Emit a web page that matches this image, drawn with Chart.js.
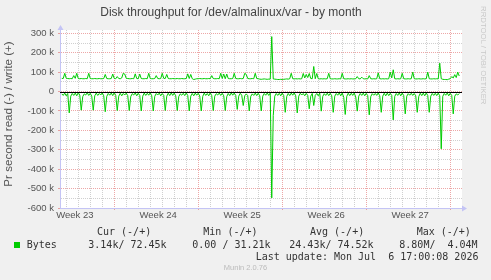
<!DOCTYPE html>
<html>
<head>
<meta charset="utf-8">
<title>Disk throughput for /dev/almalinux/var - by month</title>
<script src="https://cdn.jsdelivr.net/npm/chart.js@4.4.1/dist/chart.umd.min.js"></script>
<style>
  html, body { margin: 0; padding: 0; background: #f0f0f0; }
  #wrap { position: relative; width: 491px; height: 280px; overflow: hidden; }
  #wrap canvas { position: absolute; left: 0; top: 0; }
  .mono { position: absolute; white-space: pre; font: 10px/12px 'DejaVu Sans Mono', monospace; color: #333; }
  .swatch { position: absolute; left: 14px; top: 242px; width: 6px; height: 6px; background: #00cc00; }
  .footer { position: absolute; left: 0; width: 491px; top: 263px; text-align: center; font: 7.5px/10px 'Liberation Sans', Arial, sans-serif; color: #bbb; }
  .rrd { position: absolute; left: 479px; top: 6px; writing-mode: vertical-rl; font: 7.8px/8px 'Liberation Sans', Arial, sans-serif; color: #c8c8c8; white-space: nowrap; }
</style>
</head>
<body>
<div id="wrap">
  <canvas id="chart" width="491" height="280"></canvas>
  <div class="rrd">RRDTOOL / TOBI OETIKER</div>
  <div id="legend"></div>
  <div class="footer">Munin 2.0.76</div>
</div>
<script>
// samples every 3 hours, x in days from the start of week 24
const sampleStart = -4.4375;
const sampleStep = 0.125;

// write (+), in k per second, one row per day
const writeK = [
  68, 67, 94, 68, 67, 66, 67, 66,
  82, 68, 94, 67, 66, 67, 66, 66,
  67, 66, 94, 67, 66, 66, 67, 66,
  66, 67, 66, 66, 67, 88, 67, 66,
  66, 67, 90, 67, 66, 77, 67, 66,
  70, 94, 90, 68, 67, 66, 66, 67,
  66, 91, 67, 66, 90, 67, 66, 66,
  67, 66, 94, 67, 66, 66, 67, 82,
  67, 66, 67, 94, 68, 67, 88, 67,
  66, 66, 67, 66, 66, 67, 66, 66,
  67, 66, 66, 67, 91, 67, 88, 66,
  62, 64, 66, 66, 67, 66, 66, 67,
  66, 66, 67, 66, 82, 67, 66, 66,
  67, 66, 94, 67, 90, 66, 90, 67,
  66, 66, 67, 94, 67, 66, 66, 67,
  66, 67, 94, 88, 67, 66, 66, 67,
  66, 94, 67, 66, 64, 63, 64, 65,
  64, 63, 64, 64, 283, 65, 64, 63,
  62, 62, 63, 62, 63, 64, 65, 64,
  66, 94, 66, 65, 66, 65, 66, 65,
  66, 93, 70, 88, 72, 93, 67, 66,
  129, 66, 93, 66, 65, 66, 65, 66,
  65, 66, 94, 66, 65, 65, 66, 65,
  65, 66, 65, 94, 66, 65, 65, 66,
  65, 66, 65, 65, 66, 77, 66, 65,
  74, 66, 65, 66, 65, 82, 66, 65,
  66, 65, 66, 96, 66, 65, 66, 65,
  66, 65, 66, 100, 70, 112, 66, 65,
  66, 65, 66, 94, 66, 65, 65, 66,
  65, 66, 100, 66, 65, 65, 66, 65,
  65, 66, 65, 66, 100, 66, 65, 65,
  66, 65, 66, 65, 146, 66, 63, 62,
  62, 61, 64, 66, 77, 70, 87, 72,
  100, 80
];

// read (-), in k per second, one row per day
const readK = [
  -12, -20, -8, -22, -10, -110, -24, -10,
  -20, -8, -22, -6, -18, -96, -26, -12,
  -18, -6, -20, -9, -24, -96, -22, -8,
  -20, -10, -18, -7, -22, -104, -25, -10,
  -19, -8, -21, -6, -20, -98, -24, -9,
  -22, -10, -18, -8, -21, -98, -26, -11,
  -18, -7, -22, -9, -20, -100, -24, -8,
  -20, -9, -19, -6, -22, -100, -25, -10,
  -18, -8, -22, -10, -20, -98, -24, -9,
  -21, -7, -20, -8, -22, -98, -26, -12,
  -19, -9, -21, -7, -20, -100, -24, -10,
  -22, -8, -19, -9, -23, -100, -25, -8,
  -20, -10, -22, -6, -21, -98, -24, -11,
  -18, -8, -20, -9, -22, -98, -26, -10,
  -21, -7, -19, -8, -20, -92, -24, -9,
  -19, -72, -22, -12, -21, -100, -25, -12,
  -20, -8, -21, -9, -22, -100, -24, -10,
  -19, -7, -20, -8, -548, -124, -24, -10,
  -20, -9, -22, -8, -21, -107, -25, -10,
  -21, -8, -19, -7, -22, -110, -24, -9,
  -18, -10, -22, -9, -20, -89, -24, -10,
  -72, -20, -10, -22, -8, -101, -25, -11,
  -20, -8, -21, -9, -22, -107, -24, -10,
  -19, -7, -22, -8, -30, -118, -25, -9,
  -21, -9, -20, -8, -28, -101, -24, -10,
  -20, -8, -22, -9, -21, -120, -26, -11,
  -19, -10, -20, -7, -22, -107, -24, -9,
  -22, -8, -21, -9, -20, -146, -25, -10,
  -20, -7, -22, -8, -21, -115, -24, -11,
  -19, -9, -20, -10, -22, -107, -26, -9,
  -21, -8, -22, -7, -20, -107, -24, -10,
  -20, -9, -21, -8, -22, -295, -25, -10,
  -19, -7, -22, -9, -20, -115, -24, -12,
  -18, -10
];

const yGridValues = [-600000, -550000, -500000, -450000, -400000, -350000, -300000, -250000, -200000,
  -150000, -100000, -50000, 0, 50000, 100000, 150000, 200000, 250000, 300000];
const weekLabels = ['Week 23', 'Week 24', 'Week 25', 'Week 26', 'Week 27'];
const labelDays = [-3.35, 3.6, 10.6, 17.6, 24.6];

const titleText = 'Disk throughput for /dev/almalinux/var - by month';
const yTitle = 'Pr second read (-) / write (+)';

const legendHeaders = ['Cur (-/+)', 'Min (-/+)', 'Avg (-/+)', 'Max (-/+)'];
const legendValues = ['3.14k/ 72.45k', '0.00 / 31.21k', '24.43k/ 74.52k', '8.80M/  4.04M'];
const lastUpdate = 'Last update: Mon Jul  6 17:00:08 2026';

const sans = "'Liberation Sans', Arial, sans-serif";
const lineColor = '#00cc00';
const axisColor = 'rgb(196,196,245)';
const majorGrid = 'rgba(220,80,80,0.5)';
const minorGrid = 'rgba(150,150,150,0.45)';

const xMin = -4.583, xMax = 28.917;
const dayTicks = [];
for (let d = -4; d <= 28; d++) dayTicks.push(d);

function toPoints(vals) {
  return vals.map((v, i) => ({ x: sampleStart + i * sampleStep, y: v * 1000 }));
}

// legend block under the graph
(function buildLegend() {
  const box = document.getElementById('legend');
  const add = (text, left, top) => {
    const d = document.createElement('div');
    d.className = 'mono';
    d.textContent = text;
    d.style.left = left + 'px';
    d.style.top = top + 'px';
    box.appendChild(d);
  };
  [97, 203.3, 310, 416.7].forEach((x, i) => add(legendHeaders[i], x, 226.3));
  const sw = document.createElement('div');
  sw.className = 'swatch';
  box.appendChild(sw);
  add('Bytes', 26.7, 239);
  [88.3, 192.3, 289.3, 399.3].forEach((x, i) => add(legendValues[i], x, 239));
  add(lastUpdate, 255.7, 251.3);
})();

const munin = {
  id: 'munin',
  beforeDraw(chart) {
    const { ctx, chartArea: a } = chart;
    ctx.save();
    ctx.fillStyle = '#ffffff';
    ctx.fillRect(a.left, a.top, a.right - a.left, a.bottom - a.top);
    ctx.restore();
  },
  afterDatasetsDraw(chart) {
    const { ctx, chartArea: a, scales } = chart;
    const y0 = Math.round(scales.y.getPixelForValue(0)) + 0.5;
    ctx.save();
    ctx.strokeStyle = '#000000';
    ctx.lineWidth = 1;
    ctx.beginPath();
    ctx.moveTo(a.left, y0);
    ctx.lineTo(a.right, y0);
    ctx.stroke();

    // axis arrows
    const xl = Math.round(a.left) + 0.5;
    const yb = Math.round(a.bottom) + 0.5;
    ctx.fillStyle = axisColor;
    ctx.beginPath();
    ctx.moveTo(xl - 3, a.top);
    ctx.lineTo(xl + 3, a.top);
    ctx.lineTo(xl, a.top - 5);
    ctx.closePath();
    ctx.fill();
    ctx.beginPath();
    ctx.moveTo(a.right, yb - 3);
    ctx.lineTo(a.right, yb + 3);
    ctx.lineTo(a.right + 5, yb);
    ctx.closePath();
    ctx.fill();

    // vertical axis title
    ctx.translate(9, 114);
    ctx.rotate(-Math.PI / 2);
    ctx.textAlign = 'center';
    ctx.textBaseline = 'middle';
    ctx.fillStyle = '#555';
    ctx.font = '11.6px ' + sans;
    ctx.fillText(yTitle, 0, 0);
    ctx.restore();
  }
};

new Chart(document.getElementById('chart'), {
  type: 'line',
  data: {
    datasets: [
      { label: 'read', data: toPoints(readK), borderColor: lineColor, borderWidth: 1, pointRadius: 0, tension: 0, fill: false },
      { label: 'write', data: toPoints(writeK), borderColor: lineColor, borderWidth: 1, pointRadius: 0, tension: 0, fill: false }
    ]
  },
  options: {
    responsive: false,
    animation: false,
    events: [],
    layout: { padding: { left: 0, right: 29, top: 0, bottom: 0 } },
    plugins: {
      legend: { display: false },
      tooltip: { enabled: false },
      title: {
        display: true,
        text: titleText,
        color: '#444',
        font: { family: sans, size: 12, weight: 'normal' },
        padding: { top: 5, bottom: 10.6 }
      }
    },
    scales: {
      x: {
        type: 'linear',
        min: xMin,
        max: xMax,
        afterBuildTicks: s => {
          s.ticks = dayTicks.concat(labelDays).sort((p, q) => p - q).map(v => ({ value: v }));
        },
        afterFit: s => { s.height = 72; },
        ticks: {
          autoSkip: false,
          maxRotation: 0,
          padding: 0,
          color: '#555',
          font: { family: sans, size: 9.5 },
          callback: v => {
            const i = labelDays.indexOf(v);
            return i < 0 ? '' : weekLabels[i];
          }
        },
        grid: {
          lineWidth: 1,
          tickLength: 2,
          color: c => labelDays.includes(c.tick.value) ? 'rgba(0,0,0,0)' : (c.tick.value % 7 === 0 ? majorGrid : minorGrid),
          tickColor: c => (!labelDays.includes(c.tick.value) && c.tick.value % 7 === 0) ? majorGrid : 'rgba(0,0,0,0)'
        },
        border: { color: axisColor, width: 1, dash: [1, 1] }
      },
      y: {
        min: -600000,
        max: 317000,
        afterBuildTicks: s => { s.ticks = yGridValues.map(v => ({ value: v })); },
        afterFit: s => { s.width = 60; },
        ticks: {
          autoSkip: false,
          padding: 4,
          color: '#555',
          font: { family: sans, size: 9.5 },
          callback: v => v % 100000 !== 0 ? '' : (v === 0 ? '0' : (v / 1000) + ' k')
        },
        grid: {
          lineWidth: 1,
          tickLength: 2,
          color: c => c.tick.value % 100000 === 0 ? majorGrid : minorGrid,
          tickColor: c => c.tick.value % 100000 === 0 ? majorGrid : 'rgba(0,0,0,0)'
        },
        border: { color: axisColor, width: 1, dash: [1, 1] }
      }
    }
  },
  plugins: [munin]
});
</script>
</body>
</html>
